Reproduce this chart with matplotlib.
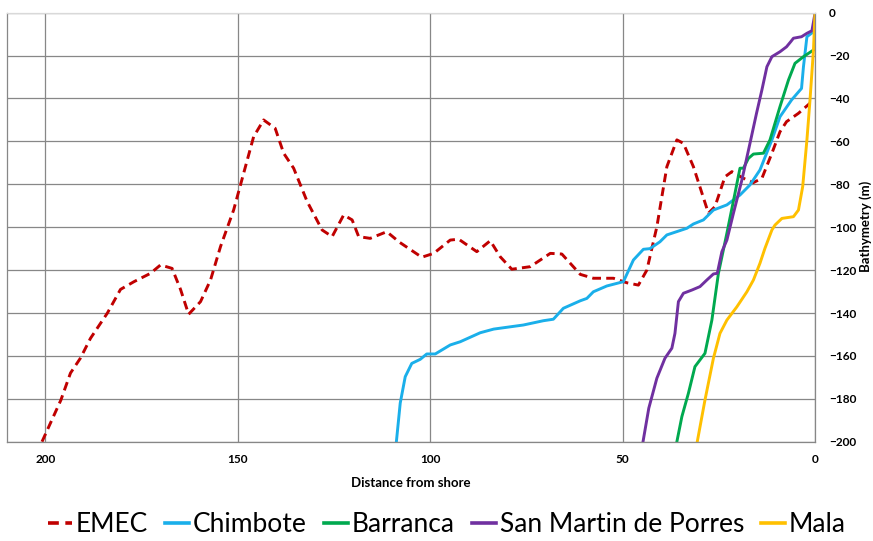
import matplotlib
matplotlib.use("Agg")
import matplotlib.pyplot as plt

plt.rcParams['font.family'] = ['Lato', 'DejaVu Sans']

# Bathymetry profiles: distance from shore (km) vs depth (m)
emec_x = [200.9, 196.0, 193.5, 190.9, 188.3, 183.9, 180.5, 177.0, 172.7, 170.1, 167.1,
          164.9, 162.8, 159.7, 157.1, 154.5, 151.1, 148.5, 145.9, 143.3, 140.3, 138.1,
          135.5, 132.0, 128.1, 125.5, 122.5, 120.3, 118.6, 115.6, 111.3, 108.0, 102.2,
          99.1, 94.8, 92.6, 87.9, 84.4, 81.8, 78.8, 74.0, 68.8, 65.8, 61.0, 57.6, 52.4,
          48.9, 45.9, 43.7, 41.1, 38.5, 35.9, 34.2, 31.6, 27.7, 26.0, 23.4, 21.6, 18.6,
          16.0, 13.8, 11.2, 9.1, 7.4, 4.3, 1.3]
emec_y = [-200.0, -180.6, -168.0, -161.0, -151.8, -140.0, -129.0, -125.4, -121.5, -117.6, -119.2,
          -129.0, -140.6, -134.7, -124.6, -109.0, -92.0, -74.9, -57.8, -50.0, -53.9, -65.5,
          -72.5, -88.0, -101.3, -104.4, -94.3, -96.6, -104.4, -105.2, -102.1, -107.0, -114.0,
          -112.2, -106.0, -105.6, -111.4, -106.3, -113.8, -119.6, -118.4, -112.2, -112.5, -122.0,
          -123.8, -123.8, -125.9, -127.0, -120.0, -99.8, -71.8, -59.3, -60.9, -71.8, -93.5,
          -90.4, -76.5, -74.1, -77.2, -79.2, -77.2, -65.5, -55.5, -50.8, -46.9, -42.2]

chimbote_x = [108.8, 107.8, 106.5, 104.8, 102.6, 100.9, 98.7, 94.8, 92.2, 87.0, 83.5, 75.8,
              70.6, 68.0, 65.4, 61.0, 59.3, 57.6, 54.1, 49.8, 47.2, 44.6, 42.9, 40.3, 38.5,
              33.3, 31.6, 29.0, 26.4, 22.9, 19.5, 16.9, 14.3, 11.2, 9.1, 6.1, 3.5, 3.0, 2.1, 0.4]
chimbote_y = [-200.0, -182.0, -169.7, -163.5, -161.6, -159.1, -159.1, -154.9, -153.4, -149.2,
              -147.5, -145.6, -143.6, -142.9, -137.8, -134.3, -133.2, -130.1, -127.4, -125.4,
              -115.3, -110.3, -110.0, -106.8, -103.6, -100.5, -98.5, -96.6, -92.0, -89.6, -85.0,
              -80.3, -73.3, -59.3, -48.5, -40.7, -35.3, -25.2, -11.2, -8.9]

barranca_x = [35.9, 34.6, 32.9, 31.2, 28.6, 26.8, 25.1, 22.9, 20.8, 19.5, 18.6, 17.3, 16.0,
              13.4, 11.7, 9.1, 6.9, 5.2, 3.0, 0.4]
barranca_y = [-200.0, -188.3, -177.4, -165.0, -158.8, -143.3, -121.5, -102.8, -84.2, -72.5,
              -72.5, -67.9, -65.9, -65.5, -59.3, -43.8, -31.4, -23.6, -20.5, -17.4]

sanmartin_x = [44.7, 43.2, 41.1, 39.0, 37.2, 36.4, 35.5, 34.2, 32.0, 29.9, 28.1, 26.4, 25.4,
               24.2, 22.9, 21.2, 19.0, 16.9, 15.2, 13.8, 12.5, 11.2, 9.1, 7.4, 6.3, 5.6, 3.5,
               2.1, 0.8, 0.0]
sanmartin_y = [-200.0, -184.4, -170.4, -161.1, -156.4, -149.5, -134.7, -130.8, -129.3, -127.7,
               -124.6, -121.8, -121.5, -111.4, -106.0, -93.5, -78.0, -60.9, -46.9, -36.0,
               -25.2, -20.5, -18.2, -15.9, -13.5, -11.9, -11.2, -9.6, -8.4, -0.3]

mala_x = [30.6, 28.6, 26.4, 24.7, 22.9, 20.3, 17.7, 16.0, 14.3, 13.0, 11.2, 10.4, 8.6, 5.6,
          4.3, 3.2, 2.1, 1.3, 0.4, 0.0]
mala_y = [-200.0, -180.6, -161.1, -149.5, -143.3, -137.1, -130.1, -124.6, -116.8, -109.8,
          -101.3, -99.0, -95.9, -95.1, -92.0, -81.1, -59.3, -40.7, -17.4, -0.3]

x_ticks = [200, 150, 100, 50, 0]
y_ticks = [0, -20, -40, -60, -80, -100, -120, -140, -160, -180, -200]

fig = plt.figure(figsize=(8.73, 5.41), dpi=100)
ax = fig.add_axes([7 / 873, 1 - 441.7 / 541, 808 / 873, 429 / 541])

lw = 2.1
ax.plot(emec_x, emec_y, color='#C00000', lw=lw, ls=(0, (3, 1.8)), label='EMEC')
ax.plot(chimbote_x, chimbote_y, color='#1AAFEA', lw=lw, label='Chimbote')
ax.plot(barranca_x, barranca_y, color='#00A94F', lw=lw, label='Barranca')
ax.plot(sanmartin_x, sanmartin_y, color='#7030A0', lw=lw, label='San Martin de Porres')
ax.plot(mala_x, mala_y, color='#FFC000', lw=lw, label='Mala')

ax.set_xlim(210, 0)
ax.set_ylim(-200, 0)
ax.set_xticks(x_ticks)
ax.set_yticks(y_ticks)
ax.yaxis.tick_right()
ax.tick_params(axis='both', length=0, labelsize=8.5)
ax.tick_params(axis='y', pad=10)
ax.tick_params(axis='x', pad=9)
for lab in ax.get_xticklabels() + ax.get_yticklabels():
    lab.set_fontweight('bold')

ax.grid(True, color='#878787', lw=0.9)
ax.set_axisbelow(True)
for side in ('left', 'bottom', 'right'):
    ax.spines[side].set_color('#878787')
    ax.spines[side].set_linewidth(0.9)
ax.spines['top'].set_color('#D9D9D9')
ax.spines['top'].set_linewidth(0.9)

fig.text(411 / 873, 1 - 483 / 541, 'Distance from shore', ha='center', va='center',
         fontsize=9.5, fontweight='bold')
fig.text(866 / 873, 1 - 226 / 541, 'Bathymetry (m)', rotation=90, ha='center',
         va='center', fontsize=9.5, fontweight='bold')

leg = fig.legend(loc='center', bbox_to_anchor=(447 / 873, 1 - 525 / 541), ncol=5,
                 frameon=False, fontsize=19, handlelength=0.9, handletextpad=0.15,
                 columnspacing=0.65, borderpad=0, borderaxespad=0)
for line in leg.get_lines():
    line.set_linewidth(2.6)

fig.savefig('out.png', dpi=100)
